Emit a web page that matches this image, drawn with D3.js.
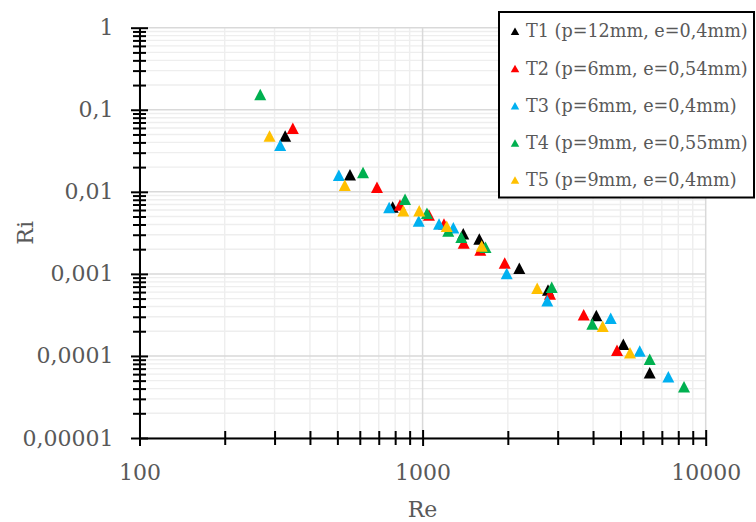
<!DOCTYPE html>
<html>
<head>
<meta charset="utf-8">
<script src="https://cdn.jsdelivr.net/npm/d3@7"></script>
<style>
  body { margin: 0; background: #ffffff; }
  text { font-family: "DejaVu Serif", serif; fill: #595959; }
</style>
</head>
<body>
<svg id="chart" width="756" height="522"></svg>
<script>
// series labels and colours
const seriesNames = [
    'T1 (p=12mm, e=0,4mm)',
    'T2 (p=6mm, e=0,54mm)',
    'T3 (p=6mm, e=0,4mm)',
    'T4 (p=9mm, e=0,55mm)',
    'T5 (p=9mm, e=0,4mm)'
];
const seriesColors = ['#000000', '#ff0000', '#00b0f0', '#00b050', '#ffc000'];

// values (Re, Ri)
const t1Re = [327, 554, 784, 1392, 1586, 2196, 2773, 4108, 5117, 6342];
const t1Ri = [0.048, 0.0162, 0.00653, 0.00309, 0.00266, 0.00117, 0.000636, 0.000311, 0.000139, 0.0000625];

const t2Re = [348, 690, 832, 1053, 1190, 1397, 1599, 1950, 2818, 3707, 4861];
const t2Ri = [0.0596, 0.0114, 0.00691, 0.00522, 0.00405, 0.00238, 0.00195, 0.00136, 0.000568, 0.000317, 0.000117];

const t3Re = [314, 506, 762, 969, 1143, 1284, 1982, 2757, 4618, 5847, 7379];
const t3Ri = [0.037, 0.0159, 0.00644, 0.00441, 0.00405, 0.00364, 0.00101, 0.000471, 0.000288, 0.000115, 0.0000558];

const t4Re = [267, 616, 867, 1036, 1232, 1370, 1668, 2858, 3976, 6342, 8383];
const t4Ri = [0.1535, 0.0172, 0.00813, 0.00547, 0.00333, 0.00279, 0.00211, 0.000686, 0.000245, 0.000091, 0.0000422];

const t5Re = [288, 531, 855, 973, 1217, 1617, 2540, 4327, 5403];
const t5Ri = [0.048, 0.012, 0.00587, 0.00587, 0.0038, 0.00219, 0.000667, 0.00023, 0.000109];

// axis ticks
const xTicks = [100, 1000, 10000];
const xTickLabels = ['100', '1000', '10000'];
const yTicks = [1, 0.1, 0.01, 0.001, 0.0001, 0.00001];
const yTickLabels = ['1', '0,1', '0,01', '0,001', '0,0001', '0,00001'];

const allRe = [t1Re, t2Re, t3Re, t4Re, t5Re];
const allRi = [t1Ri, t2Ri, t3Ri, t4Ri, t5Ri];

const width = 756;
const height = 522;
const margin = { top: 27.7, right: 50.3, bottom: 84, left: 139.5 };
const chartWidth = width - margin.left - margin.right;
const chartHeight = height - margin.top - margin.bottom;

const svg = d3.select('#chart')
    .append('g')
    .attr('transform', `translate(${margin.left}, ${margin.top})`);

const xScale = d3.scaleLog().domain([100, 10000]).range([0, chartWidth]);
const yScale = d3.scaleLog().domain([0.00001, 1]).range([chartHeight, 0]);

// minor values: 2..9 times each decade
const xMinor = [];
[100, 1000].forEach(d => { for (let i = 2; i <= 9; i++) xMinor.push(d * i); });
const yMinor = [];
[0.00001, 0.0001, 0.001, 0.01, 0.1].forEach(d => { for (let i = 2; i <= 9; i++) yMinor.push(d * i); });

// gridlines, minor first then major
const grid = svg.append('g');
grid.selectAll('.vminor').data(xMinor).enter().append('line')
    .attr('x1', d => xScale(d)).attr('x2', d => xScale(d))
    .attr('y1', 0).attr('y2', chartHeight)
    .attr('stroke', '#eeeeee').attr('stroke-width', 1.4);
grid.selectAll('.hminor').data(yMinor).enter().append('line')
    .attr('x1', 0).attr('x2', chartWidth)
    .attr('y1', d => yScale(d)).attr('y2', d => yScale(d))
    .attr('stroke', '#eeeeee').attr('stroke-width', 1.4);
grid.selectAll('.vmajor').data(xTicks).enter().append('line')
    .attr('x1', d => xScale(d)).attr('x2', d => xScale(d))
    .attr('y1', 0).attr('y2', chartHeight)
    .attr('stroke', '#d9d9d9').attr('stroke-width', 1.5);
grid.selectAll('.hmajor').data(yTicks).enter().append('line')
    .attr('x1', 0).attr('x2', chartWidth)
    .attr('y1', d => yScale(d)).attr('y2', d => yScale(d))
    .attr('stroke', '#d9d9d9').attr('stroke-width', 1.5);

// Y axis with crossing ticks
const yAxis = svg.append('g')
    .call(d3.axisLeft(yScale).tickValues(yTicks.concat(yMinor)).tickSizeOuter(0)
        .tickFormat(d => { const i = yTicks.indexOf(d); return i >= 0 ? yTickLabels[i] : ''; }));
yAxis.select('.domain').attr('stroke', '#000').attr('stroke-width', 2);
yAxis.selectAll('.tick line')
    .attr('x1', d => yTicks.includes(d) ? 8.5 : 6.5)
    .attr('x2', d => yTicks.includes(d) ? -8.5 : -6.5)
    .attr('stroke', '#000').attr('stroke-width', 2);
yAxis.selectAll('.tick text')
    .attr('x', -26)
    .style('font-size', '22px')
    .style('font-family', '"DejaVu Serif", serif')
    .attr('fill', '#595959');

// X axis with crossing ticks
const xAxis = svg.append('g')
    .attr('transform', `translate(0, ${chartHeight})`)
    .call(d3.axisBottom(xScale).tickValues(xTicks.concat(xMinor)).tickSizeOuter(0)
        .tickFormat(d => { const i = xTicks.indexOf(d); return i >= 0 ? xTickLabels[i] : ''; }));
xAxis.select('.domain').attr('stroke', '#000').attr('stroke-width', 2);
xAxis.selectAll('.tick line')
    .attr('y1', d => xTicks.includes(d) ? -8 : -7)
    .attr('y2', d => xTicks.includes(d) ? 8 : 7)
    .attr('stroke', '#000').attr('stroke-width', 2);
xAxis.selectAll('.tick text')
    .attr('y', 42).attr('dy', 0)
    .style('font-size', '22px')
    .style('font-family', '"DejaVu Serif", serif')
    .attr('fill', '#595959');

// triangle marker path, centred on its box
function tri(w, h) {
    return `M0,${-h / 2}L${w / 2},${h / 2}L${-w / 2},${h / 2}Z`;
}

// points, later series on top
allRe.forEach((reArr, s) => {
    const pts = reArr.map((re, i) => ({ re: re, ri: allRi[s][i] }));
    svg.append('g').selectAll('path')
        .data(pts)
        .enter()
        .append('path')
        .attr('d', tri(12, 11.5))
        .attr('transform', d => `translate(${xScale(d.re)}, ${yScale(d.ri)})`)
        .attr('fill', seriesColors[s]);
});

// axis titles
svg.append('text')
    .attr('x', chartWidth / 2)
    .attr('y', chartHeight + 79)
    .style('text-anchor', 'middle')
    .style('font-size', '22px')
    .text('Re');

svg.append('text')
    .attr('transform', 'rotate(-90)')
    .attr('x', -chartHeight / 2)
    .attr('y', -margin.left + 33)
    .style('text-anchor', 'middle')
    .style('font-size', '22px')
    .text('Ri');

// legend
const legend = d3.select('#chart').append('g');
legend.append('rect')
    .attr('x', 499).attr('y', 12)
    .attr('width', 255).attr('height', 185.5)
    .attr('fill', '#ffffff')
    .attr('stroke', '#000').attr('stroke-width', 2);

const rows = legend.selectAll('.row')
    .data(seriesNames)
    .enter()
    .append('g')
    .attr('transform', (d, i) => `translate(0, ${37.3 + i * 37.2})`);
rows.append('path')
    .attr('d', tri(8.5, 7.5))
    .attr('transform', 'translate(515, -6)')
    .attr('fill', (d, i) => seriesColors[i]);
rows.append('text')
    .attr('x', 526)
    .attr('y', 0)
    .style('font-size', '17.6px')
    .text(d => d);
</script>
</body>
</html>
